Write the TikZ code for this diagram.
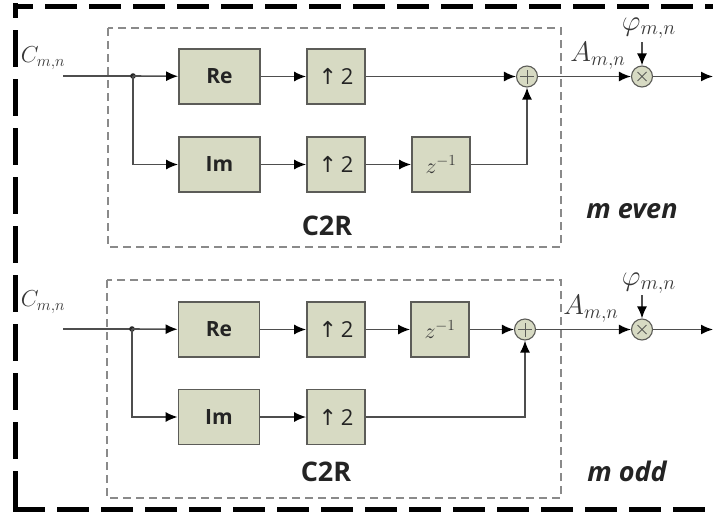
\RequirePackage{fix-cm}
\documentclass[tikz,border=0pt]{standalone}
\usepackage{fontspec}
\setsansfont{Open Sans}
\newfontfamily\symfont{DejaVu Sans}
\usetikzlibrary{arrows.meta}

\definecolor{boxfill}{RGB}{215,218,195}
\definecolor{boxline}{RGB}{92,92,88}
\definecolor{wirec}{RGB}{78,78,78}
\definecolor{grpline}{RGB}{138,138,138}
\definecolor{txt}{RGB}{36,36,36}
\definecolor{lbl}{RGB}{55,55,55}

\begin{document}
\begin{tikzpicture}[x=1pt,y=-1pt,
  blk/.style={draw=boxline, fill=boxfill, line width=1.7pt, minimum width=81pt,
    minimum height=55pt, inner sep=0pt, text=txt,
    font=\sffamily\bfseries\fontsize{21}{23}\selectfont},
  smallblk/.style={blk, minimum width=58pt,
    font=\sffamily\fontsize{22}{24}\selectfont},
  opnode/.style={circle, draw=boxline, fill=boxfill, minimum size=21pt,
    inner sep=0pt, line width=1.1pt},
  plussign/.style={opnode, path picture={
    \draw[boxline, line width=0.9pt]
      ([xshift=-7pt]path picture bounding box.center) -- ([xshift=7pt]path picture bounding box.center)
      ([yshift=-7pt]path picture bounding box.center) -- ([yshift=7pt]path picture bounding box.center);}},
  timessign/.style={opnode, path picture={
    \draw[boxline, line width=0.9pt]
      ([shift={(-4.5pt,-4.5pt)}]path picture bounding box.center) -- ([shift={(4.5pt,4.5pt)}]path picture bounding box.center)
      ([shift={(-4.5pt,4.5pt)}]path picture bounding box.center) -- ([shift={(4.5pt,-4.5pt)}]path picture bounding box.center);}},
  wire/.style={draw=wirec, line width=1.6pt},
  arr/.style={wire, -{Latex[length=12pt,width=10pt,color=black]}},
  grp/.style={draw=grpline, line width=1.6pt, dash pattern=on 8pt off 5pt},
  grplabel/.style={text=txt, font=\sffamily\bfseries\fontsize{27}{29}\selectfont},
  caselabel/.style={text=txt, font=\sffamily\bfseries\itshape\fontsize{27}{29}\selectfont},
  sig/.style={text=lbl, inner sep=0pt, font=\fontsize{22}{24}\selectfont},
  frame/.style={draw=black, line width=5pt}
]
\useasboundingbox (0,0) rectangle (713,512);

% outer frame
\draw[frame, dash pattern=on 32pt off 12pt, dash phase=12pt] (13,6) -- (716,6);
\draw[frame, dash pattern=on 37pt off 12pt, dash phase=22pt] (15,3) -- (15,508);
\draw[frame, dash pattern=on 32pt off 12pt] (13,509) -- (716,509);

% ---------------- m even ----------------
\draw[grp] (108,28) rectangle (561,247);
\node[grplabel] (c2rA) at (327,226) {C2R};
\node[caselabel] (caseA) at (632,211) {m even};

\coordinate (inA) at (63,76);
\coordinate (jA) at (133,76);
\node[blk] (reA) at (219.5,76.5) {Re};
\node[blk] (imA) at (219.5,164.5) {Im};
\node[smallblk] (upA1) at (336,76.5) {{\symfont ↑}\,2};
\node[smallblk] (upA2) at (336,164.5) {{\symfont ↑}\,2};
\node[smallblk] (zA) at (441,164.5) {\textcolor{lbl}{$z^{-1}$}};
\node[plussign] (addA) at (527,76.5) {};
\node[timessign] (mulA) at (642,76.5) {};
\coordinate (outA) at (713,76.5);
\coordinate (phiA) at (642,42);

\node[sig] (lcA) at (43,58) {\scalebox{1.05}{$C_{m,n}$}};
\node[sig] (laA) at (598,56) {\scalebox{1.28}{$A_{m,n}$}};
\node[sig] (lpA) at (649,28) {\scalebox{1.32}{$\varphi_{m,n}$}};

\draw[wire] (inA) -- (jA);
\fill[black!85] (jA) circle (2.8pt);
\draw[arr] (jA) -- (reA);
\draw[arr] (jA) |- (imA);
\draw[arr] (reA) -- (upA1);
\draw[arr] (imA) -- (upA2);
\draw[arr] (upA2) -- (zA);
\draw[arr] (upA1) -- (addA);
\draw[arr] (zA) -| (addA);
\draw[arr] (addA) -- (mulA);
\draw[arr] (phiA) -- (mulA);
\draw[arr] (mulA) -- (outA);

% ---------------- m odd ----------------
\draw[grp] (107,280) rectangle (561,498);
\node[grplabel] (c2rB) at (326,472) {C2R};
\node[caselabel] (caseB) at (627,471) {m odd};

\coordinate (inB) at (63,329);
\coordinate (jB) at (132,329);
\node[blk] (reB) at (219,329.5) {Re};
\node[blk] (imB) at (219,417) {Im};
\node[smallblk] (upB1) at (336,329.5) {{\symfont ↑}\,2};
\node[smallblk] (upB2) at (336,417) {{\symfont ↑}\,2};
\node[smallblk] (zB) at (440,329.5) {\textcolor{lbl}{$z^{-1}$}};
\node[plussign] (addB) at (525,329.5) {};
\node[timessign] (mulB) at (642,329.5) {};
\coordinate (outB) at (713,329.5);
\coordinate (phiB) at (642,295);

\node[sig] (lcB) at (43,302) {\scalebox{1.05}{$C_{m,n}$}};
\node[sig] (laB) at (591,309) {\scalebox{1.28}{$A_{m,n}$}};
\node[sig] (lpB) at (649,283) {\scalebox{1.32}{$\varphi_{m,n}$}};

\draw[wire] (inB) -- (jB);
\fill[black!85] (jB) circle (2.8pt);
\draw[arr] (jB) -- (reB);
\draw[arr] (jB) |- (imB);
\draw[arr] (reB) -- (upB1);
\draw[arr] (upB1) -- (zB);
\draw[arr] (zB) -- (addB);
\draw[arr] (imB) -- (upB2);
\draw[arr] (upB2) -| (addB);
\draw[arr] (addB) -- (mulB);
\draw[arr] (phiB) -- (mulB);
\draw[arr] (mulB) -- (outB);
\end{tikzpicture}
\end{document}
